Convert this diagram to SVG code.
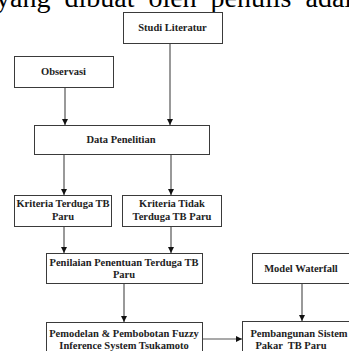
<svg xmlns="http://www.w3.org/2000/svg" width="349" height="351" viewBox="0 0 349 351">
<style>
.box{fill:#fff;stroke:#3a3a3a;stroke-width:1}
.t{font-family:"Liberation Serif","Times New Roman",serif;font-weight:bold;font-size:10.5px;fill:#222;text-anchor:middle}
.ln{stroke:#555;stroke-width:1.2;fill:none}
.top{font-family:"Liberation Serif","Times New Roman",serif;font-size:28px;fill:#000}
</style>
<defs>
<marker id="ah" markerWidth="8" markerHeight="8" refX="6" refY="3" orient="auto" markerUnits="userSpaceOnUse">
<path d="M0,0 L6,3 L0,6 Z" fill="#111"/>
</marker>
</defs>
<rect width="349" height="351" fill="#fff"/>
<text class="top" x="-4" y="7" word-spacing="7">yang dibuat oleh penulis adalah</text>
<g id="connectors">
<line class="ln" x1="65" y1="87" x2="65" y2="125" marker-end="url(#ah)"/>
<line class="ln" x1="170" y1="43" x2="170" y2="125" marker-end="url(#ah)"/>
<line class="ln" x1="64" y1="154" x2="64" y2="195" marker-end="url(#ah)"/>
<line class="ln" x1="171" y1="154" x2="171" y2="195" marker-end="url(#ah)"/>
<line class="ln" x1="64" y1="226" x2="64" y2="253" marker-end="url(#ah)"/>
<line class="ln" x1="171" y1="226" x2="171" y2="253" marker-end="url(#ah)"/>
<line class="ln" x1="124" y1="283" x2="124" y2="322" marker-end="url(#ah)"/>
<line class="ln" x1="302" y1="283" x2="302" y2="321" marker-end="url(#ah)"/>
<line class="ln" x1="202" y1="339" x2="242" y2="339" marker-end="url(#ah)"/>
</g>
<g id="studi">
<rect class="box" x="123.5" y="12.5" width="99" height="31"/>
<text class="t" x="172.5" y="31">Studi Literatur</text>
</g>
<g id="observasi">
<rect class="box" x="14.5" y="56.5" width="99" height="31"/>
<text class="t" x="63.5" y="75">Observasi</text>
</g>
<g id="data">
<rect class="box" x="34.5" y="125.5" width="175" height="29"/>
<text class="t" x="121" y="143">Data Penelitian</text>
</g>
<g id="kriteria1">
<rect class="box" x="14.5" y="195.5" width="97" height="31"/>
<text class="t" x="63" y="207">Kriteria Terduga TB</text>
<text class="t" x="63" y="219.5">Paru</text>
</g>
<g id="kriteria2">
<rect class="box" x="122.5" y="195.5" width="99" height="31"/>
<text class="t" x="172" y="207">Kriteria Tidak</text>
<text class="t" x="172" y="219.5">Terduga TB Paru</text>
</g>
<g id="penilaian">
<rect class="box" x="46.5" y="253.5" width="156" height="30"/>
<text class="t" x="124" y="265.5">Penilaian Penentuan Terduga TB</text>
<text class="t" x="124" y="277.5">Paru</text>
</g>
<g id="waterfall">
<rect class="box" x="252.5" y="253.5" width="97" height="30"/>
<text class="t" x="301" y="272">Model Waterfall</text>
</g>
<g id="pemodelan">
<rect class="box" x="46.5" y="322.5" width="156" height="40"/>
<text class="t" x="124" y="337">Pemodelan &amp; Pembobotan Fuzzy</text>
<text class="t" x="124" y="349">Inference System Tsukamoto</text>
</g>
<g id="pembangunan">
<rect class="box" x="242.5" y="321.5" width="120" height="40"/>
<text class="t" x="299" y="337">Pembangunan Sistem</text>
<text class="t" x="291" y="349" xml:space="preserve">Pakar  TB Paru</text>
</g>
</svg>
